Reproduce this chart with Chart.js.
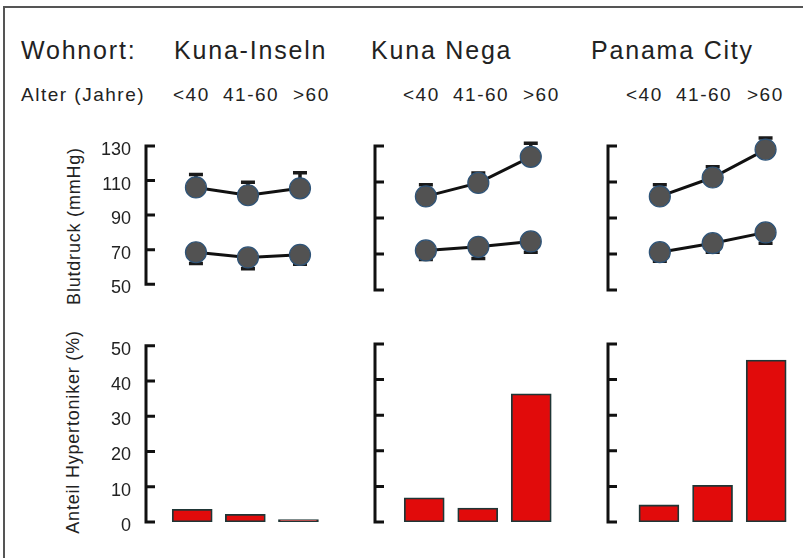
<!DOCTYPE html>
<html>
<head>
<meta charset="utf-8">
<title>Blutdruck nach Wohnort</title>
<script src="https://cdn.jsdelivr.net/npm/chart.js@4.4.0/dist/chart.umd.min.js"></script>
<style>
  html, body { margin: 0; padding: 0; background: #fff; }
  #fig { position: relative; width: 803px; height: 558px; overflow: hidden;
         font-family: "Liberation Sans", Arial, sans-serif; color: #222; }
  .frame { position: absolute; left: 3px; top: 6px; right: -4px; bottom: -4px;
           border-top: 2px solid #555; border-left: 2px solid #555; }
  .txt { position: absolute; white-space: nowrap; }
  .head { font-size: 25px; line-height: 25px; letter-spacing: 1.8px; }
  .sub { font-size: 19px; line-height: 19px; letter-spacing: 1.5px; }
  .ytitle { font-size: 18px; line-height: 18px; letter-spacing: 0.8px;
            transform: translate(-50%, -50%) rotate(-90deg); }
  canvas { position: absolute; }
</style>
</head>
<body>
<div id="fig">
  <div class="frame"></div>
</div>
<script>
// Daten
const places = ['Kuna-Inseln', 'Kuna Nega', 'Panama City'];
const ages = ['<40', '41-60', '>60'];

// Blutdruck (mmHg): systolisch (oben) und diastolisch (unten)
const sysKuna = [106, 101.5, 105.5];
const sysNega = [102, 109.5, 124];
const sysPanama = [102, 112.5, 128];
const diaKuna = [68.5, 65.5, 67];
const diaNega = [72, 74, 77];
const diaPanama = [71, 76, 82];

// Fehlerbalken: systolisch nach oben, diastolisch nach unten
const sysErrKuna = [7.5, 7.5, 9];
const sysErrNega = [6.5, 5.5, 7.5];
const sysErrPanama = [6.5, 6, 6.5];
const diaErrKuna = [6.5, 6.5, 5.5];
const diaErrNega = [5, 6.5, 6];
const diaErrPanama = [5, 5, 6];

// Anteil Hypertoniker (%)
const hypKuna = [3.6, 2.2, 0.7];
const hypNega = [6.8, 3.9, 36];
const hypPanama = [4.8, 10.3, 45.5];

const bpTicks = [50, 70, 90, 110, 130];
const hypTicks = [0, 10, 20, 30, 40, 50];

// Layout
const fig = document.getElementById('fig');
const YW = 90;      // Breite der y-Achse
const xMax = 2.5;
const bpLayout = [
    { axisX: 146, xMin: -0.96, step: 52 },
    { axisX: 375, xMin: -0.97, step: 52.5 },
    { axisX: 608, xMin: -0.98, step: 53 }
];
const hypLayout = [
    { axisX: 146, xMin: -0.87, step: 53 },
    { axisX: 375, xMin: -0.92, step: 53.5 },
    { axisX: 608, xMin: -0.95, step: 53.5 }
];
const headLeft = [174, 371, 591];
const ageLeft = [[173, 223, 293], [403, 453, 523], [626, 676, 747]];

function addText(text, cls, left, top) {
    const d = document.createElement('div');
    d.className = 'txt ' + cls;
    d.textContent = text;
    d.style.left = left + 'px';
    d.style.top = top + 'px';
    fig.appendChild(d);
    return d;
}

// Kopfzeilen
addText('Wohnort:', 'head', 21, 38);
places.forEach((p, i) => addText(p, 'head', headLeft[i], 38));
addText('Alter (Jahre)', 'sub', 21, 85);
ageLeft.forEach(col => col.forEach((l, i) => addText(ages[i], 'sub', l, 85)));
addText('Blutdruck (mmHg)', 'ytitle', 74, 226);
addText('Anteil Hypertoniker (%)', 'ytitle', 73, 432);

function makeCanvas(left, top, width, height) {
    const c = document.createElement('canvas');
    c.width = width;
    c.height = height;
    c.style.left = left + 'px';
    c.style.top = top + 'px';
    c.style.width = width + 'px';
    c.style.height = height + 'px';
    fig.appendChild(c);
    return c;
}

// y-Achse als Klammer mit nach innen zeigenden Ticks
const bracketAxis = {
    id: 'bracketAxis',
    afterDraw(chart) {
        const y = chart.scales.y;
        const x0 = chart.chartArea.left;
        const ctx = chart.ctx;
        ctx.save();
        ctx.strokeStyle = '#111';
        ctx.lineWidth = 3;
        ctx.beginPath();
        ctx.moveTo(x0, y.getPixelForValue(y.max) - 1.5);
        ctx.lineTo(x0, y.getPixelForValue(y.min) + 1.5);
        y.ticks.forEach(t => {
            const py = y.getPixelForValue(t.value);
            ctx.moveTo(x0, py);
            ctx.lineTo(x0 + 9, py);
        });
        ctx.stroke();
        ctx.restore();
    }
};

// Fehlerbalken (einseitig)
const errorBars = {
    id: 'errorBars',
    beforeDatasetsDraw(chart) {
        const ctx = chart.ctx;
        const y = chart.scales.y;
        ctx.save();
        ctx.strokeStyle = '#1a1a1a';
        ctx.lineWidth = 3.5;
        chart.data.datasets.forEach((ds, i) => {
            if (!ds.errors) return;
            chart.getDatasetMeta(i).data.forEach((pt, j) => {
                const end = y.getPixelForValue(ds.data[j].y + ds.errorDir * ds.errors[j]);
                ctx.beginPath();
                ctx.moveTo(pt.x, pt.y);
                ctx.lineTo(pt.x, end);
                ctx.moveTo(pt.x - 7, end);
                ctx.lineTo(pt.x + 7, end);
                ctx.stroke();
            });
        });
        ctx.restore();
    }
};

function yScale(tickVals, showLabels) {
    return {
        min: tickVals[0],
        max: tickVals[tickVals.length - 1],
        afterBuildTicks: s => { s.ticks = tickVals.map(v => ({ value: v })); },
        afterFit: s => { s.width = YW; },
        grid: { display: false, drawTicks: false },
        border: { display: false },
        ticks: {
            display: showLabels,
            padding: 15,
            labelOffset: 4,
            color: '#222',
            font: { family: '"Liberation Sans", Arial, sans-serif', size: 18 }
        }
    };
}

const toPoints = arr => arr.map((v, i) => ({ x: i, y: v }));

function bpChart(col, sys, sysErr, dia, diaErr) {
    const p = bpLayout[col];
    const width = Math.round(YW + (xMax - p.xMin) * p.step + 20);
    const c = makeCanvas(p.axisX - YW, 120, width, 190);
    const ds = (arr, err, dir) => ({
        data: toPoints(arr),
        errors: err,
        errorDir: dir,
        borderColor: '#111',
        borderWidth: 3,
        pointRadius: 10.5,
        pointBackgroundColor: '#525252',
        pointBorderColor: '#2f5478',
        pointBorderWidth: 1.2,
        clip: false
    });
    new Chart(c, {
        type: 'line',
        data: { datasets: [ds(sys, sysErr, 1), ds(dia, diaErr, -1)] },
        options: {
            responsive: false,
            animation: false,
            layout: { padding: { top: 26, bottom: 20, left: 0, right: 20 } },
            plugins: { legend: { display: false }, tooltip: { enabled: false } },
            scales: {
                x: { type: 'linear', display: false, min: p.xMin, max: xMax },
                y: yScale(bpTicks, col === 0)
            }
        },
        plugins: [errorBars, bracketAxis]
    });
}

function hypChart(col, values) {
    const p = hypLayout[col];
    const width = Math.round(YW + (xMax - p.xMin) * p.step + 20);
    const c = makeCanvas(p.axisX - YW, 320, width, 230);
    new Chart(c, {
        type: 'bar',
        data: {
            datasets: [{
                data: toPoints(values),
                backgroundColor: '#e10b0b',
                borderColor: '#1f3636',
                borderWidth: 1.8,
                borderSkipped: false,
                barThickness: 40
            }]
        },
        options: {
            responsive: false,
            animation: false,
            layout: { padding: { top: 24, bottom: 28, left: 0, right: 20 } },
            plugins: { legend: { display: false }, tooltip: { enabled: false } },
            scales: {
                x: { type: 'linear', display: false, offset: false, min: p.xMin, max: xMax },
                y: yScale(hypTicks, col === 0)
            }
        },
        plugins: [bracketAxis]
    });
}

bpChart(0, sysKuna, sysErrKuna, diaKuna, diaErrKuna);
bpChart(1, sysNega, sysErrNega, diaNega, diaErrNega);
bpChart(2, sysPanama, sysErrPanama, diaPanama, diaErrPanama);
hypChart(0, hypKuna);
hypChart(1, hypNega);
hypChart(2, hypPanama);
</script>
</body>
</html>
